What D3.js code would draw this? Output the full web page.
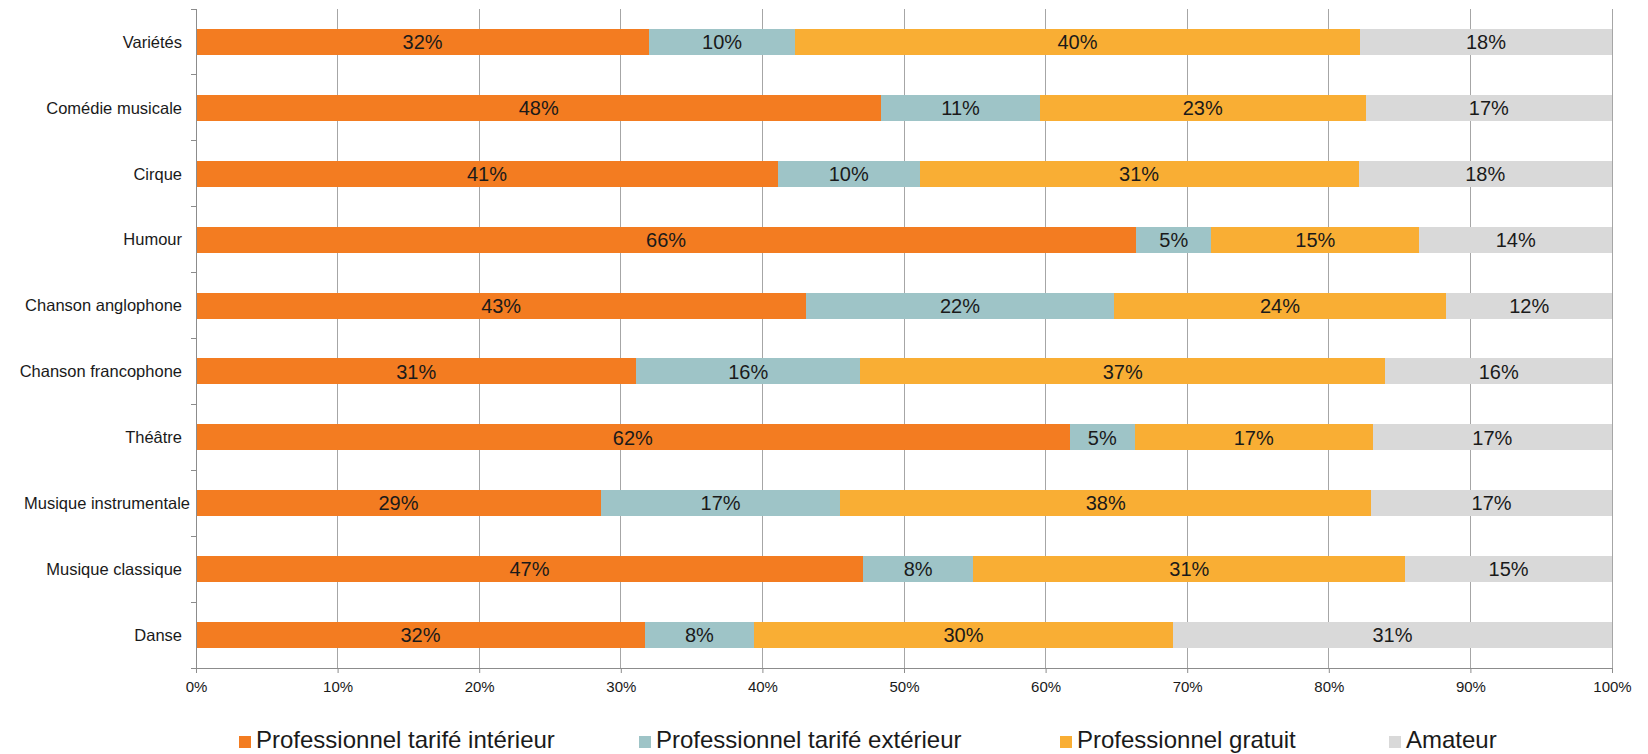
<!DOCTYPE html>
<html>
<head>
<meta charset="utf-8">
<script src="https://cdn.jsdelivr.net/npm/d3@7"></script>
<style>
  html, body { margin: 0; padding: 0; background: #fff; }
  svg { display: block; font-family: "Liberation Sans", Arial, sans-serif; }
</style>
</head>
<body>
<svg id="chart" width="1648" height="754"></svg>
<script>
const categories = ["Variétés", "Comédie musicale", "Cirque", "Humour", "Chanson anglophone",
  "Chanson francophone", "Théâtre", "Musique instrumentale", "Musique classique", "Danse"];
const seriesNames = ["Professionnel tarifé intérieur", "Professionnel tarifé extérieur",
  "Professionnel gratuit", "Amateur"];
const proTarifeInterieur = [32.0, 48.4, 41.1, 66.4, 43.1, 31.1, 61.7, 28.6, 47.1, 31.7];
const proTarifeExterieur = [10.3, 11.2, 10.0, 5.3, 21.7, 15.8, 4.6, 16.9, 7.8, 7.7];
const proGratuit        = [39.9, 23.0, 31.0, 14.7, 23.5, 37.1, 16.8, 37.5, 30.5, 29.6];
const amateur           = [17.8, 17.4, 17.9, 13.6, 11.7, 16.0, 16.9, 17.0, 14.6, 31.0];
const xTicks = [0, 10, 20, 30, 40, 50, 60, 70, 80, 90, 100];
const colors = ["#F37C21", "#9EC4C7", "#F9AE34", "#D9D9D9"];

const seriesValues = [proTarifeInterieur, proTarifeExterieur, proGratuit, amateur];
const rows = categories.map((c, i) => {
  const r = { cat: c };
  seriesNames.forEach((s, j) => r[s] = seriesValues[j][i]);
  return r;
});

const svg = d3.select("#chart");
const mLeft = 196, mRight = 1612, mTop = 9, mBottom = 668;

const x = d3.scaleLinear().domain([0, 100]).range([mLeft, mRight]);
const y = d3.scaleBand().domain(categories).range([mTop, mBottom])
  .paddingInner(0.605).paddingOuter(0.3025);

// gridlines
svg.append("g").selectAll("line").data(xTicks.slice(1)).join("line")
  .attr("x1", d => x(d)).attr("x2", d => x(d))
  .attr("y1", mTop).attr("y2", mBottom)
  .attr("stroke", "#A6A6A6").attr("stroke-width", 1).attr("shape-rendering", "crispEdges");

// stacked bars
const stack = d3.stack().keys(seriesNames)(rows);
const layers = svg.append("g").selectAll("g").data(stack).join("g")
  .attr("fill", (d, i) => colors[i]);
layers.selectAll("rect").data(d => d).join("rect")
  .attr("x", d => x(d[0]))
  .attr("width", d => x(d[1]) - x(d[0]))
  .attr("y", d => y(d.data.cat))
  .attr("height", y.bandwidth())
  .attr("shape-rendering", "crispEdges");

// data labels
const labels = svg.append("g");
stack.forEach(layer => {
  labels.append("g").selectAll("text").data(layer).join("text")
    .attr("x", d => (x(d[0]) + x(d[1])) / 2)
    .attr("y", d => y(d.data.cat) + y.bandwidth() / 2)
    .attr("dy", "0.36em")
    .attr("text-anchor", "middle")
    .attr("font-size", 20)
    .attr("fill", "#1a1a1a")
    .text(d => Math.round(d[1] - d[0]) + "%");
});

// x axis
const xAxis = d3.axisBottom(x).tickValues(xTicks).tickFormat(d => d + "%").tickSize(5).tickPadding(8);
const gx = svg.append("g").attr("transform", `translate(0,${mBottom})`).call(xAxis);
gx.select(".domain").attr("stroke", "#8C8C8C");
gx.selectAll(".tick line").attr("stroke", "#8C8C8C");
gx.selectAll(".tick text").attr("font-size", 15).attr("fill", "#1a1a1a")
  .attr("font-family", "'Liberation Sans', Arial, sans-serif");

// y axis: line + ticks at band boundaries
svg.append("line").attr("x1", mLeft).attr("x2", mLeft).attr("y1", mTop).attr("y2", mBottom)
  .attr("stroke", "#8C8C8C").attr("shape-rendering", "crispEdges");
const boundaries = d3.range(categories.length + 1).map(i => mTop + i * y.step());
svg.append("g").selectAll("line").data(boundaries).join("line")
  .attr("x1", mLeft - 5).attr("x2", mLeft).attr("y1", d => d).attr("y2", d => d)
  .attr("stroke", "#8C8C8C").attr("shape-rendering", "crispEdges");
svg.append("g").selectAll("text").data(categories).join("text")
  .attr("x", d => d === "Musique instrumentale" ? 190 : 182)
  .attr("y", d => y(d) + y.bandwidth() / 2)
  .attr("dy", "0.35em")
  .attr("text-anchor", "end")
  .attr("font-size", 16.5)
  .attr("fill", "#1a1a1a")
  .text(d => d);

// legend
const legendX = [239, 639, 1060, 1389];
const lg = svg.append("g").selectAll("g").data(seriesNames).join("g")
  .attr("transform", (d, i) => `translate(${legendX[i]},748)`);
lg.append("rect").attr("x", 0).attr("y", -12).attr("width", 12).attr("height", 12)
  .attr("fill", (d, i) => colors[i]);
lg.append("text").attr("x", 17).attr("y", 0).attr("font-size", 24).attr("fill", "#1a1a1a")
  .text(d => d);
</script>
</body>
</html>
